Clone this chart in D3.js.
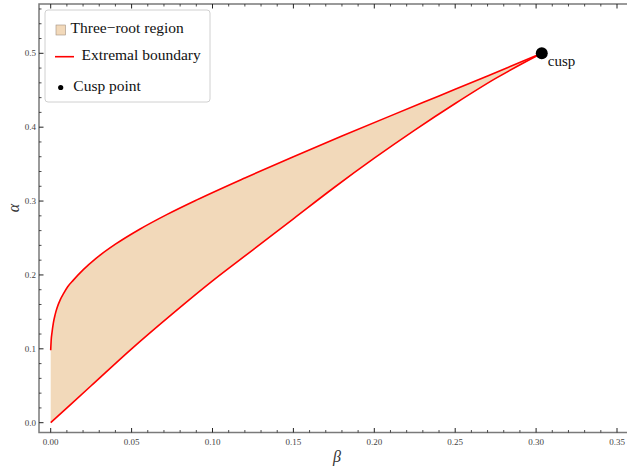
<!DOCTYPE html>
<html>
<head>
<meta charset="utf-8">
<script src="https://cdn.jsdelivr.net/npm/d3@7"></script>
<style>
  body { margin: 0; background: #fff; }
  svg { display: block; }
  text { font-family: "Liberation Serif", "Times New Roman", serif; }
</style>
</head>
<body>
<div id="chart"></div>
<script>
// upper extremal boundary (beta, alpha)
const upperBeta  = [0, 0.0003, 0.0008, 0.0016, 0.0027, 0.0040, 0.0058, 0.0080, 0.0105, 0.014, 0.020, 0.028, 0.040, 0.055, 0.072, 0.090, 0.12, 0.15, 0.18, 0.21, 0.24, 0.27, 0.3035];
const upperAlpha = [0.098, 0.112, 0.122, 0.1345, 0.146, 0.156, 0.166, 0.175, 0.184, 0.193, 0.2068, 0.2224, 0.2416, 0.2619, 0.2820, 0.3013, 0.3313, 0.3601, 0.388, 0.4153, 0.4423, 0.4693, 0.5];

// lower extremal boundary
const lowerBeta  = [0, 0.025, 0.05, 0.075, 0.10, 0.125, 0.15, 0.175, 0.20, 0.225, 0.25, 0.275, 0.3035];
const lowerAlpha = [0, 0.050, 0.100, 0.147, 0.192, 0.234, 0.276, 0.318, 0.358, 0.396, 0.432, 0.466, 0.5];

const cusp = [0.3035, 0.5];

const xTicks = [0, 0.05, 0.10, 0.15, 0.20, 0.25, 0.30, 0.35];
const yTicks = [0, 0.1, 0.2, 0.3, 0.4, 0.5];

const legendItems = ["Three\u2212root region", "Extremal boundary", "Cusp point"];

const width = 627, height = 466;
const fillColor = "#f2d9ba";

const svg = d3.select("#chart").append("svg")
    .attr("width", width)
    .attr("height", height);

const x = d3.scaleLinear().domain([0, 0.35]).range([50.7, 617]);
const y = d3.scaleLinear().domain([0, 0.5]).range([422.7, 53.3]);

// frame edges
const fx0 = 39, fx1 = 629, fy0 = 4, fy1 = 432.5;

const upper = upperBeta.map((b, i) => [b, upperAlpha[i]]);
const lower = lowerBeta.map((b, i) => [b, lowerAlpha[i]]);

// region fill
const region = upper.concat(lower.slice().reverse());
svg.append("path")
    .attr("d", d3.line().x(d => x(d[0])).y(d => y(d[1])).curve(d3.curveLinearClosed)(region))
    .attr("fill", fillColor)
    .attr("stroke", "none");

const line = d3.line().x(d => x(d[0])).y(d => y(d[1])).curve(d3.curveMonotoneX);

svg.append("path")
    .attr("d", line(upper))
    .attr("fill", "none")
    .attr("stroke", "#ff0000")
    .attr("stroke-width", 1.6);

svg.append("path")
    .attr("d", line(lower))
    .attr("fill", "none")
    .attr("stroke", "#ff0000")
    .attr("stroke-width", 1.6);

// cusp point
svg.append("circle")
    .attr("cx", x(cusp[0]))
    .attr("cy", y(cusp[1]))
    .attr("r", 6)
    .attr("fill", "#000");

svg.append("text")
    .attr("x", x(cusp[0]) + 6)
    .attr("y", y(cusp[1]) + 13)
    .attr("font-size", 15)
    .attr("fill", "#111")
    .text("cusp");

// frame with inside ticks
const frameColor = "#7a7a7a";
const frame = svg.append("g");

frame.append("rect")
    .attr("x", fx0).attr("y", fy0)
    .attr("width", fx1 - fx0).attr("height", fy1 - fy0)
    .attr("fill", "none")
    .attr("stroke", frameColor)
    .attr("stroke-width", 1.5);

const xMinor = d3.range(0, 36).map(i => i / 100).filter(v => Math.round(v * 100) % 5 !== 0);
const yMinor = d3.range(0, 29).map(i => i / 50).filter(v => Math.round(v * 50) % 5 !== 0);

xTicks.forEach(v => {
    frame.append("line").attr("x1", x(v)).attr("x2", x(v)).attr("y1", fy1).attr("y2", fy1 - 4.5)
        .attr("stroke", "#222").attr("stroke-width", 1);
    frame.append("line").attr("x1", x(v)).attr("x2", x(v)).attr("y1", fy0).attr("y2", fy0 + 4.5)
        .attr("stroke", "#222").attr("stroke-width", 1);
    frame.append("text")
        .attr("x", x(v)).attr("y", fy1 + 12)
        .attr("text-anchor", "middle")
        .attr("font-size", 9)
        .attr("fill", "#444")
        .text(d3.format(".2f")(v));
});
xMinor.forEach(v => {
    frame.append("line").attr("x1", x(v)).attr("x2", x(v)).attr("y1", fy1).attr("y2", fy1 - 2.5)
        .attr("stroke", "#222").attr("stroke-width", 0.8);
    frame.append("line").attr("x1", x(v)).attr("x2", x(v)).attr("y1", fy0).attr("y2", fy0 + 2.5)
        .attr("stroke", "#222").attr("stroke-width", 0.8);
});

yTicks.forEach(v => {
    frame.append("line").attr("x1", fx0).attr("x2", fx0 + 4.5).attr("y1", y(v)).attr("y2", y(v))
        .attr("stroke", "#222").attr("stroke-width", 1);
    frame.append("text")
        .attr("x", fx0 - 3).attr("y", y(v) + 3)
        .attr("text-anchor", "end")
        .attr("font-size", 9)
        .attr("fill", "#444")
        .text(d3.format(".1f")(v));
});
yMinor.forEach(v => {
    frame.append("line").attr("x1", fx0).attr("x2", fx0 + 2.5).attr("y1", y(v)).attr("y2", y(v))
        .attr("stroke", "#222").attr("stroke-width", 0.8);
});

// axis labels
svg.append("text")
    .attr("x", 337).attr("y", 462)
    .attr("text-anchor", "middle")
    .attr("font-size", 16)
    .attr("font-style", "italic")
    .attr("fill", "#333")
    .text("\u03b2");

svg.append("text")
    .attr("transform", "translate(19,208) rotate(-90)")
    .attr("text-anchor", "middle")
    .attr("font-size", 16)
    .attr("font-style", "italic")
    .attr("fill", "#333")
    .text("\u03b1");

// legend
const legend = svg.append("g");
legend.append("rect")
    .attr("x", 45).attr("y", 10)
    .attr("width", 165).attr("height", 92)
    .attr("rx", 3)
    .attr("fill", "#fff")
    .attr("stroke", "#d0d0d0")
    .attr("stroke-width", 1);

legend.append("rect")
    .attr("x", 56).attr("y", 25)
    .attr("width", 9.5).attr("height", 10)
    .attr("fill", fillColor)
    .attr("stroke", "#a09080")
    .attr("stroke-width", 0.6);

legend.append("line")
    .attr("x1", 55).attr("x2", 74)
    .attr("y1", 56.7).attr("y2", 56.7)
    .attr("stroke", "#ff0000")
    .attr("stroke-width", 1.6);

legend.append("circle")
    .attr("cx", 60.7).attr("cy", 87.5)
    .attr("r", 2.6)
    .attr("fill", "#000");

const labelPos = [[70.5, 32.5], [81.5, 60], [73.3, 91]];
legendItems.forEach((t, i) => {
    legend.append("text")
        .attr("x", labelPos[i][0]).attr("y", labelPos[i][1])
        .attr("font-size", 15.5)
        .attr("fill", "#111")
        .text(t);
});
</script>
</body>
</html>
